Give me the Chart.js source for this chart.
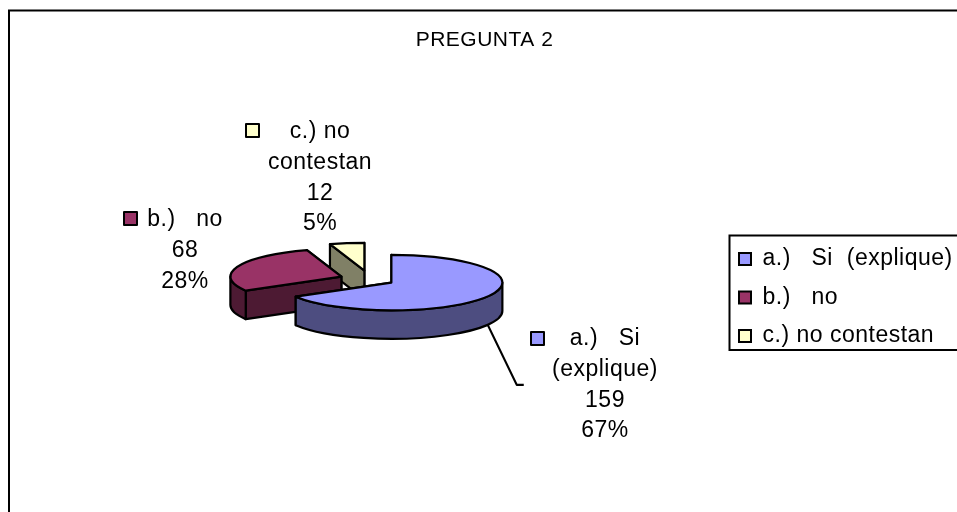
<!DOCTYPE html>
<html><head><meta charset="utf-8">
<style>html,body{margin:0;padding:0;background:#fff;overflow:hidden;width:957px;height:512px}canvas{display:block}</style>
<script src="https://cdn.jsdelivr.net/npm/chart.js@4"></script>
</head><body>
<canvas id="c" width="969" height="512" style="width:969px;height:512px"></canvas>
<script>
const titleText = 'PREGUNTA 2';
const categories = ['a.)   Si  (explique)', 'b.)   no', 'c.) no contestan'];
const values = [159, 68, 12];
const labelNameLines = [['a.)   Si', '(explique)'], ['b.)   no'], ['c.) no', 'contestan']];
const topColors = ['#9999FF', '#993366', '#FFFFCC'];
const sideColors = ['#4D4D80', '#4D1A33', '#808066'];

const FONT = '"Liberation Sans", Arial, sans-serif';
const SPACING = '0.5px';
const TILT = 0.25, DEPTH = 28.5, RX = 111;
const explode = [[0,0],[-50,-6],[-27,-12]];
const labelBoxes = [
  {cx:605, y:339, icon:[530,331]},
  {cx:185, y:220, icon:[123,211]},
  {cx:320, y:132, icon:[245,123]}
];
const LINE = 30.6;

const pie3d = {
  id:'pie3d',
  beforeUpdate(chart){ chart.ctx.letterSpacing=SPACING; },
  afterLayout(chart){
    const l = chart.legend;
    const w = l.width, h = l.height;
    l.left = 723.5; l.right = 723.5 + w; l.top = 232; l.bottom = 232 + h;
    chart.titleBlock.left = 0; chart.titleBlock.right = chart.width;
  },
  beforeDraw(chart){
    const c = chart.ctx;
    c.letterSpacing=SPACING;
    c.save();
    c.fillStyle='#fff'; c.fillRect(0,0,chart.width,chart.height);
    c.strokeStyle='#000'; c.lineWidth=2;
    c.beginPath(); c.moveTo(9,512); c.lineTo(9,10.5); c.lineTo(969,10.5); c.stroke();
    c.beginPath(); c.moveTo(969,235.5); c.lineTo(729.5,235.5); c.lineTo(729.5,350); c.lineTo(969,350); c.stroke();
    c.restore();
  },
  beforeDatasetDraw(){ return false; },
  afterDatasetsDraw(chart){
    const c = chart.ctx, arcs = chart.getDatasetMeta(0).data;
    c.save();
    c.lineWidth=2.2; c.strokeStyle='#000'; c.lineJoin='round';
    // leader line of the first slice, anchored on its outer wall
    const a0 = arcs[0], mid0 = (a0.startAngle+a0.endAngle)/2;
    const lx = a0.x + Math.cos(mid0)*RX, ly = a0.y + Math.sin(mid0)*RX*TILT + DEPTH;
    c.beginPath(); c.moveTo(lx,ly); c.lineTo(lx+29,ly+60); c.lineTo(lx+36,ly+60); c.stroke();
    // painter's order: back slice first
    [2,1,0].forEach(i=>{
      const a = arcs[i], ox = a.x+explode[i][0], oy = a.y+explode[i][1];
      const r = a.outerRadius, ry = r*TILT;
      const pt = t=>[ox+Math.cos(t)*r, oy+Math.sin(t)*ry];
      const wall = t=>{
        const p = pt(t);
        c.beginPath(); c.moveTo(ox,oy); c.lineTo(p[0],p[1]); c.lineTo(p[0],p[1]+DEPTH); c.lineTo(ox,oy+DEPTH); c.closePath();
        c.fillStyle = sideColors[i]; c.fill(); c.stroke();
      };
      wall(a.endAngle); wall(a.startAngle);
      const s = Math.max(a.startAngle,0), e = Math.min(a.endAngle,Math.PI);
      if (e > s){
        c.beginPath();
        c.ellipse(ox,oy,r,ry,0,s,e,false);
        c.ellipse(ox,oy+DEPTH,r,ry,0,e,s,true);
        c.closePath();
        c.fillStyle = sideColors[i]; c.fill(); c.stroke();
      }
      c.beginPath(); c.moveTo(ox,oy);
      c.ellipse(ox,oy,r,ry,0,a.startAngle,a.endAngle,false);
      c.closePath();
      c.fillStyle = a.options.backgroundColor; c.fill(); c.stroke();
    });
    // data labels
    const total = values.reduce((p,v)=>p+v,0);
    c.font = '23px '+FONT; c.textAlign='center'; c.textBaseline='middle';
    labelBoxes.forEach((b,i)=>{
      c.fillStyle=topColors[i]; c.lineWidth=2;
      c.fillRect(b.icon[0]+1,b.icon[1]+1,13,13);
      c.strokeRect(b.icon[0]+1,b.icon[1]+1,13,13);
      const lines = labelNameLines[i].concat([String(values[i]), Math.round(values[i]/total*100)+'%']);
      c.fillStyle='#000';
      lines.forEach((t,k)=>c.fillText(t,b.cx,b.y+k*LINE));
    });
    c.restore();
  }
};

new Chart(document.getElementById('c'),{
  type:'pie',
  plugins:[pie3d],
  data:{labels:categories,datasets:[{data:values,backgroundColor:topColors,borderColor:'#000',borderWidth:2}]},
  options:{
    responsive:false,animation:false,radius:RX,
    layout:{padding:{left:60,right:7,top:0,bottom:9}},
    plugins:{
      tooltip:{enabled:false},
      title:{display:true,text:titleText,color:'#000',font:{family:FONT,size:21,weight:'normal'},padding:{top:28,bottom:9}},
      legend:{position:'right',align:'start',labels:{color:'#000',font:{family:FONT,size:23},boxWidth:12,boxHeight:12,padding:15.5}}
    }
  }
});
</script>
</body></html>
